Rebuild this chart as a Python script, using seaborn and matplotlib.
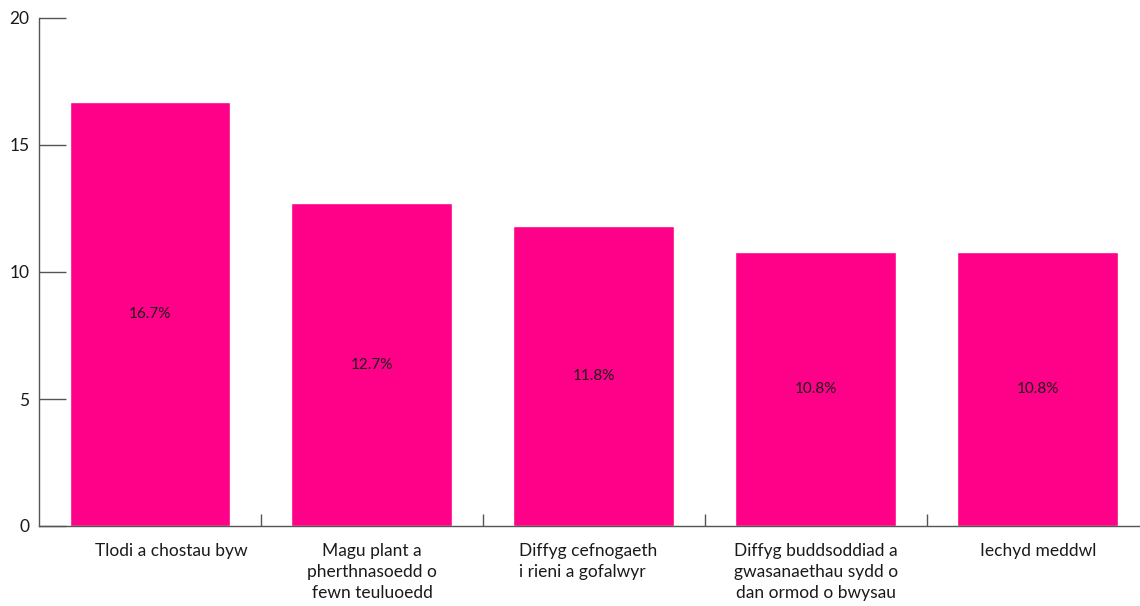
import matplotlib
matplotlib.use("Agg")
import matplotlib.pyplot as plt
import matplotlib.transforms as mtransforms
import seaborn as sns
import pandas as pd

categories = [
    "Tlodi a chostau byw",
    "Magu plant a\npherthnasoedd o\nfewn teuluoedd",
    "Diffyg cefnogaeth\ni rieni a gofalwyr",
    "Diffyg buddsoddiad a\ngwasanaethau sydd o\ndan ormod o bwysau",
    "Iechyd meddwl",
]
values = [16.7, 12.7, 11.8, 10.8, 10.8]
y_ticks = [0, 5, 10, 15, 20]

sns.set_theme(style="white")
plt.rcParams["font.family"] = ["Lato", "DejaVu Sans"]

df = pd.DataFrame({"category": categories, "value": values})

W, H = 1140, 606
fig = plt.figure(figsize=(W / 100, H / 100), dpi=100)
ax = fig.add_axes([39 / W, (H - 526) / H, (W - 39) / W, (526 - 18) / H])

sns.barplot(data=df, x="category", y="value", color="#FF0088",
            saturation=1, width=0.725, ax=ax)

ax.set_ylim(0, 20)
ax.set_xlim(-0.5, 4.46)
ax.set_yticks(y_ticks)
ax.set_yticklabels([str(t) for t in y_ticks])
ax.set_xlabel("")
ax.set_ylabel("")

# category ticks sit on the boundaries between bars
ax.set_xticks([i + 0.5 for i in range(len(categories) - 1)])
ax.set_xticklabels([])
ax.set_xticks(range(len(categories)), minor=True)
ax.set_xticklabels(categories, minor=True, fontsize=12.5, color="#1a1a1a",
                   linespacing=1.4, va="top")
ax.tick_params(axis="x", which="major", direction="in", length=8.6,
               width=1, color="#555555", bottom=True)
ax.tick_params(axis="x", which="minor", length=0, pad=12, bottom=True)
ax.tick_params(axis="y", direction="in", length=19.5, width=1, left=True,
               color="#555555", pad=7, labelsize=12.5, labelcolor="#1a1a1a")

minor_labels = ax.get_xticklabels(minor=True)
minor_labels[2].set_multialignment("left")
# first label sits a little to the right of its bar
shift = mtransforms.ScaledTranslation(0.21, 0, fig.dpi_scale_trans)
minor_labels[0].set_transform(minor_labels[0].get_transform() + shift)
minor_labels[2].set_transform(minor_labels[2].get_transform()
                              + mtransforms.ScaledTranslation(-0.06, 0, fig.dpi_scale_trans))

for side in ("top", "right"):
    ax.spines[side].set_visible(False)
for side in ("left", "bottom"):
    ax.spines[side].set_color("#555555")
    ax.spines[side].set_linewidth(1)

for i, v in enumerate(values):
    ax.text(i, v / 2, f"{v}%", ha="center", va="center",
            fontsize=11, color="#1a1a1a")

fig.savefig("out.png", dpi=100)
